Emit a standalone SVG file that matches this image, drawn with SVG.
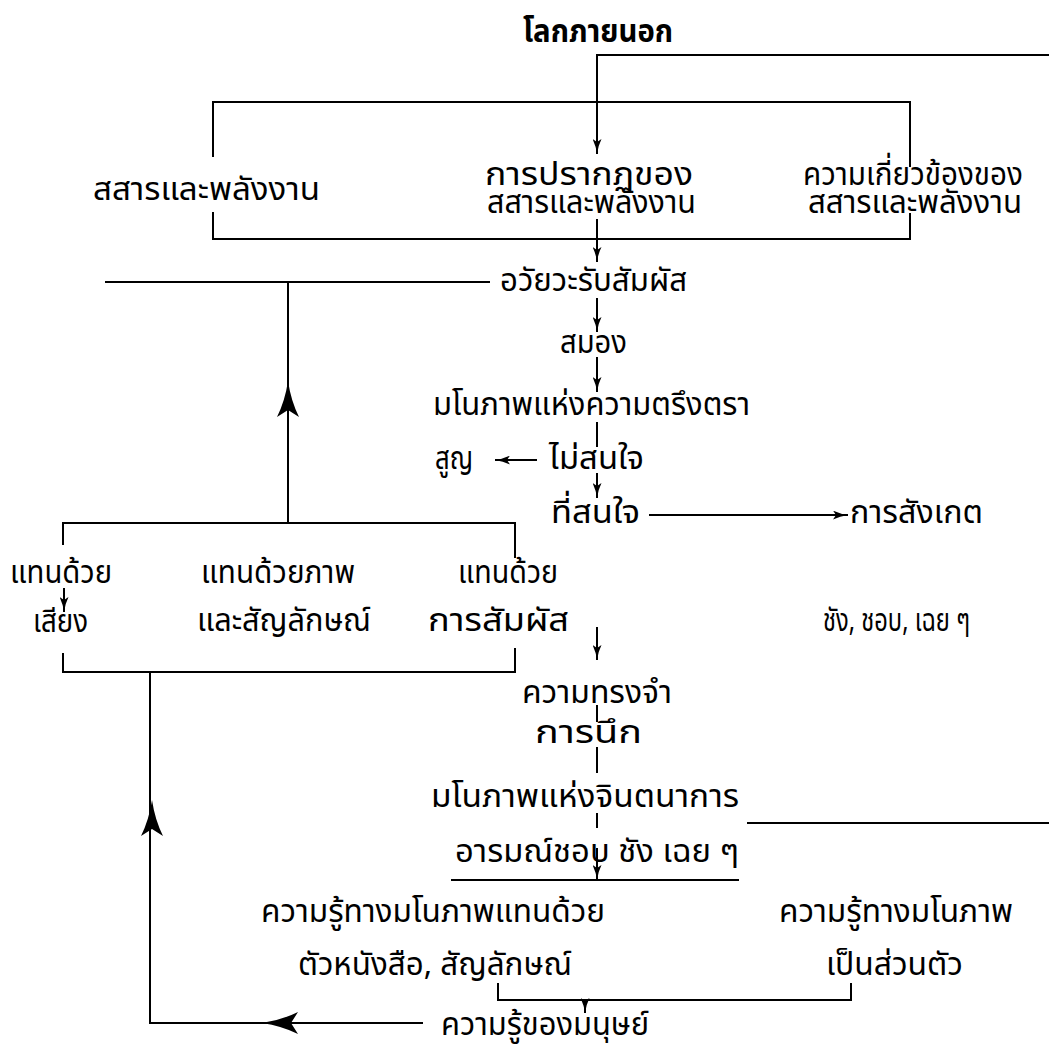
<svg xmlns="http://www.w3.org/2000/svg" xmlns:xlink="http://www.w3.org/1999/xlink" width="1049" height="1047" viewBox="0 0 1049 1047">
<style>
  .t { font-family: "Noto Sans Thai", "Noto Sans", "DejaVu Sans", sans-serif; font-size: 32px; fill: #000; }
  .title { font-weight: bold; font-size: 31px; }
  .ln { fill: none; stroke: #000; stroke-width: 2; }
  .ar { fill: none; stroke: #000; stroke-width: 2; marker-end: url(#sm); }
  .big { fill: #000; stroke: none; }
</style>
<defs>
  <marker id="sm" markerUnits="userSpaceOnUse" viewBox="0 0 15 9" refX="15" refY="4.5" markerWidth="15" markerHeight="9" orient="auto">
    <path d="M0,0 Q7,3.5 15,4.5 Q7,5.5 0,9 L3,4.5 Z" fill="#000"/>
  </marker>
  <path id="bigUp" d="M0,0 Q3,20 11,36 L0,29 L-11,36 Q-3,20 0,0 Z"/>
</defs>
<rect width="1049" height="1047" fill="#fff"/>

<g id="connectors">
  <path class="ar" d="M1049,55 H597 V154"/>
  <path class="ln" d="M213,157 V102 H910 V167"/>
  <path class="ln" d="M213,212 V239 H910 V213"/>
  <path class="ar" d="M597,219 V262"/>
  <path class="ln" d="M105,282 H490"/>
  <path class="ln" d="M288,282 V523"/>
  <use class="big" xlink:href="#bigUp" x="288" y="381"/>
  <path class="ar" d="M597,298 V332"/>
  <path class="ar" d="M597,357 V392"/>
  <path class="ln" d="M597,422 V447"/>
  <path class="ar" d="M537,460 H495"/>
  <path class="ar" d="M597,473 V498"/>
  <path class="ar" d="M649,515 H848"/>
  <path class="ln" d="M63,545 V523 H515 V558"/>
  <path class="ln" d="M63,653 V672 H515 V648"/>
  <path class="ar" d="M64,588 V612"/>
  <path class="ar" d="M597,627 V660"/>
  <path class="ln" d="M597,705 V722"/>
  <path class="ln" d="M597,747 V773"/>
  <path class="ln" d="M597,813 V828"/>
  <path class="ln" d="M747,823 H1049"/>
  <path class="ar" d="M597,848 V880"/>
  <path class="ln" d="M451,880 H739"/>
  <path class="ln" d="M498,983 V1000 H851 V983"/>
  <path class="ar" d="M585,1000 V1013"/>
  <path class="ln" d="M423,1023 H150 V672"/>
  <use class="big" xlink:href="#bigUp" transform="translate(262,1023) rotate(-90)"/>
  <use class="big" xlink:href="#bigUp" x="152" y="800"/>
</g>

<g id="n-title"><text class="t title" x="523" y="42" textLength="150" lengthAdjust="spacingAndGlyphs">โลกภายนอก</text></g>
<g id="n-matter"><text class="t" x="93" y="200" textLength="227" lengthAdjust="spacingAndGlyphs">สสารและพลังงาน</text></g>
<g id="n-appear">
  <text class="t" x="485" y="185" textLength="208" lengthAdjust="spacingAndGlyphs">การปรากฏของ</text>
  <text class="t" x="487" y="213" textLength="209" lengthAdjust="spacingAndGlyphs">สสารและพลังงาน</text>
</g>
<g id="n-relation">
  <text class="t" x="803" y="185" textLength="220" lengthAdjust="spacingAndGlyphs">ความเกี่ยวข้องของ</text>
  <text class="t" x="808" y="213" textLength="214" lengthAdjust="spacingAndGlyphs">สสารและพลังงาน</text>
</g>
<g id="n-sense"><text class="t" x="500" y="291" textLength="187" lengthAdjust="spacingAndGlyphs">อวัยวะรับสัมผัส</text></g>
<g id="n-brain"><text class="t" x="560" y="353" textLength="67" lengthAdjust="spacingAndGlyphs">สมอง</text></g>
<g id="n-impression"><text class="t" x="433" y="415" textLength="317" lengthAdjust="spacingAndGlyphs">มโนภาพแห่งความตรึงตรา</text></g>
<g id="n-notinterest"><text class="t" x="549" y="469" textLength="95" lengthAdjust="spacingAndGlyphs">ไม่สนใจ</text></g>
<g id="n-lost"><text class="t" x="435" y="469" textLength="38" lengthAdjust="spacingAndGlyphs">สูญ</text></g>
<g id="n-interest"><text class="t" x="551" y="523" textLength="89" lengthAdjust="spacingAndGlyphs">ที่สนใจ</text></g>
<g id="n-observe"><text class="t" x="850" y="523" textLength="133" lengthAdjust="spacingAndGlyphs">การสังเกต</text></g>
<g id="n-sound">
  <text class="t" x="10" y="583" textLength="102" lengthAdjust="spacingAndGlyphs">แทนด้วย</text>
  <text class="t" x="33" y="632" textLength="55" lengthAdjust="spacingAndGlyphs">เสียง</text>
</g>
<g id="n-picture">
  <text class="t" x="201" y="583" textLength="154" lengthAdjust="spacingAndGlyphs">แทนด้วยภาพ</text>
  <text class="t" x="197" y="631" textLength="174" lengthAdjust="spacingAndGlyphs">และสัญลักษณ์</text>
</g>
<g id="n-touch">
  <text class="t" x="458" y="583" textLength="100" lengthAdjust="spacingAndGlyphs">แทนด้วย</text>
  <text class="t" x="428" y="631" textLength="141" lengthAdjust="spacingAndGlyphs">การสัมผัส</text>
</g>
<g id="n-feelings"><text class="t" x="823" y="631" textLength="147" lengthAdjust="spacingAndGlyphs">ชัง, ชอบ, เฉย ๆ</text></g>
<g id="n-memory"><text class="t" x="522" y="703" textLength="150" lengthAdjust="spacingAndGlyphs">ความทรงจำ</text></g>
<g id="n-recall"><text class="t" x="535" y="743" textLength="107" lengthAdjust="spacingAndGlyphs">การนึก</text></g>
<g id="n-imagination"><text class="t" x="431" y="807" textLength="308" lengthAdjust="spacingAndGlyphs">มโนภาพแห่งจินตนาการ</text></g>
<g id="n-emotion"><text class="t" x="455" y="862" textLength="284" lengthAdjust="spacingAndGlyphs">อารมณ์ชอบ ชัง เฉย ๆ</text></g>
<g id="n-symbolic">
  <text class="t" x="261" y="922" textLength="344" lengthAdjust="spacingAndGlyphs">ความรู้ทางมโนภาพแทนด้วย</text>
  <text class="t" x="298" y="975" textLength="274" lengthAdjust="spacingAndGlyphs">ตัวหนังสือ, สัญลักษณ์</text>
</g>
<g id="n-personal">
  <text class="t" x="779" y="922" textLength="234" lengthAdjust="spacingAndGlyphs">ความรู้ทางมโนภาพ</text>
  <text class="t" x="826" y="975" textLength="137" lengthAdjust="spacingAndGlyphs">เป็นส่วนตัว</text>
</g>
<g id="n-human"><text class="t" x="441" y="1035" textLength="208" lengthAdjust="spacingAndGlyphs">ความรู้ของมนุษย์</text></g>
</svg>
